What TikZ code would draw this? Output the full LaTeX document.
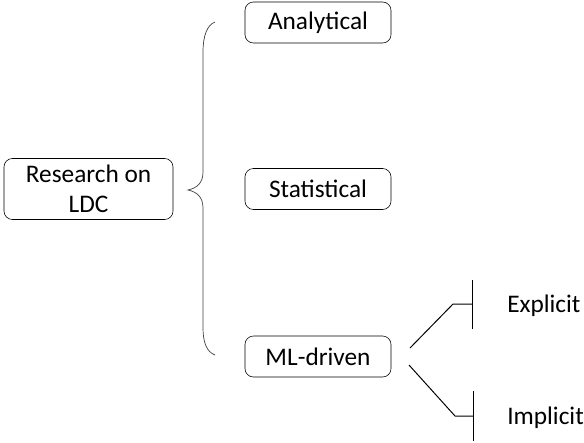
\documentclass[tikz,border=0pt]{standalone}
\usepackage{fontspec}
\setmainfont{Carlito}
\usetikzlibrary{positioning}
\tikzset{
  box/.style={rectangle, draw, rounded corners=6pt, minimum height=1.025cm,
              minimum width=3.65cm, align=center, inner sep=2pt,
              font=\fontsize{18}{21}\selectfont},
  rbox/.style={box, minimum height=1.525cm, minimum width=4.225cm},
  leaf/.style={anchor=west, inner sep=0pt, font=\fontsize{18}{21}\selectfont},
  brc/.style={draw=black!75, line width=0.5pt},
  br/.style={line width=0.7pt}
}
\begin{document}
\begin{tikzpicture}[x=0.025cm,y=-0.025cm]
  \useasboundingbox (0,0) rectangle (584,442);
  \node[rbox] (root) at (88.5,189) {Research on\\LDC};
  \node[box] (ana) at (318,22.5) {Analytical};
  \node[box] (stat) at (318,189) {Statistical};
  \node[box] (ml) at (318,356.5) {ML-driven};
  \node[leaf] (expl) at (507,306) {Explicit};
  \node[leaf] (impl) at (507,418) {Implicit};
  % brace
  \coordinate (btop) at (215,22);
  \coordinate (btip) at (188,190);
  \coordinate (bbot) at (215,355);
  \draw[brc] (btop) .. controls (207,25) and (203,36) .. (203,52) -- (203,172)
    .. controls (203,183) and (197,188) .. (btip)
    .. controls (197,192) and (203,197) .. (203,208) -- (203,328)
    .. controls (203,343) and (207,352) .. (bbot);
  % ML-driven branches
  \coordinate (e0) at (410,348);
  \coordinate (e1) at (453,304);
  \coordinate (e2) at (472,304);
  \coordinate (i0) at (409,365);
  \coordinate (i1) at (455,416);
  \coordinate (i2) at (473,416);
  \draw[br] (e0) -- (e1) -- (e2);
  \draw[br] (472,280) -- (472,329);
  \draw[br] (i0) -- (i1) -- (i2);
  \draw[br] (473,391) -- (473,441);
\end{tikzpicture}
\end{document}
